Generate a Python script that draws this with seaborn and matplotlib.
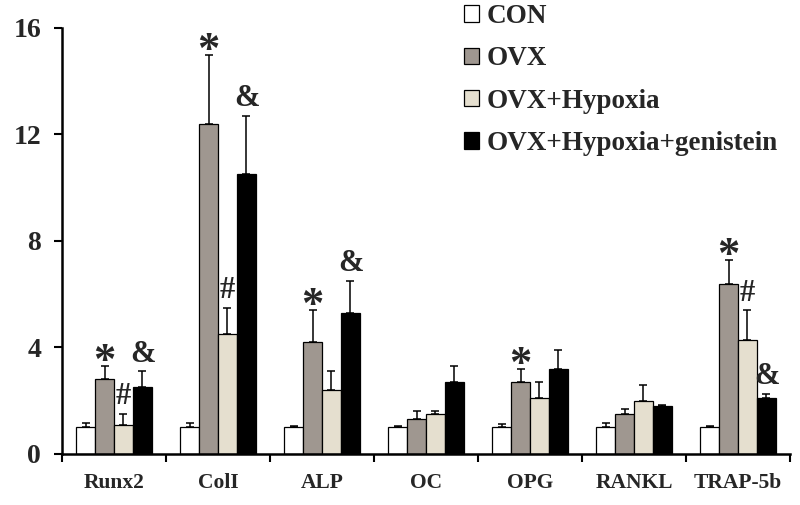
import pandas as pd
import matplotlib.pyplot as plt
import matplotlib.ticker as mticker
import seaborn as sns

# relative expression
genes = ['Runx2', 'ColI', 'ALP', 'OC', 'OPG', 'RANKL', 'TRAP-5b']
groups = ['CON', 'OVX', 'OVX+Hypoxia', 'OVX+Hypoxia+genistein']

con_mean = [1.0, 1.0, 1.0, 1.0, 1.0, 1.0, 1.0]
con_err = [0.15, 0.15, 0.07, 0.04, 0.12, 0.15, 0.06]
ovx_mean = [2.8, 12.4, 4.2, 1.3, 2.7, 1.5, 6.4]
ovx_err = [0.5, 2.6, 1.2, 0.3, 0.5, 0.2, 0.9]
hyp_mean = [1.1, 4.5, 2.4, 1.5, 2.1, 2.0, 4.3]
hyp_err = [0.4, 1.0, 0.7, 0.1, 0.6, 0.6, 1.1]
gen_mean = [2.5, 10.5, 5.3, 2.7, 3.2, 1.8, 2.1]
gen_err = [0.6, 2.2, 1.2, 0.6, 0.7, 0.05, 0.15]

# significance marks (gene index -> symbol) per group
marks = {
    'OVX': {0: '*', 1: '*', 2: '*', 4: '*', 6: '*'},
    'OVX+Hypoxia': {0: '#', 1: '#', 6: '#'},
    'OVX+Hypoxia+genistein': {0: '&', 1: '&', 2: '&', 6: '&'},
}

colors = ['#ffffff', '#a1978d', '#e9e1cb', '#000000']


def build_frame():
    means = [con_mean, ovx_mean, hyp_mean, gen_mean]
    rows = []
    for g, vals in zip(groups, means):
        for gene, v in zip(genes, vals):
            rows.append({'gene': gene, 'group': g, 'value': v})
    return pd.DataFrame(rows)


def main():
    sns.set_style('ticks')
    plt.rcParams['font.family'] = ['Liberation Serif', 'DejaVu Serif']
    plt.rcParams['font.weight'] = 'bold'

    df = build_frame()
    fig = plt.figure(figsize=(8, 5.05), dpi=100)
    ax = fig.add_axes([0.0775, 0.101, 0.91, 0.8436])

    sns.barplot(data=df, x='gene', y='value', hue='group', palette=colors,
                edgecolor='black', linewidth=0.9, errorbar=None, width=0.73,
                gap=0, ax=ax)

    errs = [con_err, ovx_err, hyp_err, gen_err]
    for g, cont, err in zip(groups, ax.containers, errs):
        xs = [p.get_x() + p.get_width() / 2 for p in cont.patches]
        ys = [p.get_height() for p in cont.patches]
        ax.errorbar(xs, ys, yerr=[[0] * len(err), err], fmt='none',
                    ecolor='black', elinewidth=1.1, capsize=3, capthick=1.1)
        for i, sym in marks.get(g, {}).items():
            top = ys[i] + err[i]
            if sym == '*':
                ax.text(xs[i], top - 0.6, sym, ha='center', va='bottom',
                        fontsize=32, fontweight='bold')
            else:
                ax.text(xs[i], top + 0.1, sym, ha='center', va='bottom',
                        fontsize=22, fontweight='bold')

    ax.set_ylim(0, 16)
    ax.set_xlim(-0.5, len(genes) - 0.5)
    ax.set_yticks([0, 4, 8, 12, 16])
    ax.set_xlabel('')
    ax.set_ylabel('')
    ax.xaxis.set_minor_locator(mticker.FixedLocator([i - 0.5 for i in range(len(genes) + 1)]))
    ax.tick_params(axis='x', which='major', length=0, pad=14, labelsize=15.5)
    ax.tick_params(axis='x', which='minor', length=6, width=1.5, direction='out', color='black')
    ax.tick_params(axis='y', length=6, width=1.5, direction='out', pad=9,
                   labelsize=20, color='black')
    for lab in ax.get_xticklabels() + ax.get_yticklabels():
        lab.set_fontweight('bold')

    sns.despine(ax=ax)
    for s in ['left', 'bottom']:
        ax.spines[s].set_linewidth(1.8)
        ax.spines[s].set_color('black')

    ax.legend(loc='upper left', bbox_to_anchor=(0.58, 0.992),
              bbox_transform=fig.transFigure, frameon=False, borderpad=0,
              borderaxespad=0, handlelength=0.55, handleheight=0.55,
              handletextpad=0.28, labelspacing=0.64,
              prop={'size': 19.5, 'weight': 'bold'})

    fig.savefig('out.png', dpi=100)


if __name__ == "__main__":
    main()
